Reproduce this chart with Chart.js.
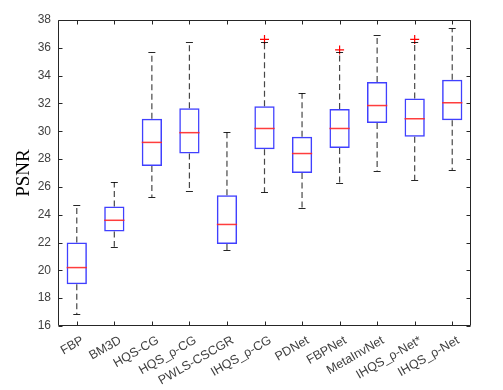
<!DOCTYPE html>
<html>
<head>
<meta charset="utf-8">
<script src="https://cdn.jsdelivr.net/npm/chart.js@4"></script>
<style>
  html, body { margin: 0; padding: 0; background: #fff; }
  canvas { display: block; }
</style>
</head>
<body>
<canvas id="psnrChart" width="503" height="390"></canvas>
<script>
'use strict';

// ── Data ──────────────────────────────────────────────────────────────────────
const METHODS   = ['FBP','BM3D','HQS-CG','HQS_ρ-CG','PWLS-CSCGR','IHQS_ρ-CG','PDNet','FBPNet','MetaInvNet','IHQS_ρ-Net*','IHQS_ρ-Net'];
const Q1        = [19.0, 22.8, 27.5, 28.4, 21.9, 28.7, 27.0, 28.8, 30.6, 29.6, 30.8];
const MEDIAN    = [20.2, 23.6, 29.2, 29.9, 23.3, 30.2, 28.4, 30.2, 31.85, 30.9, 32.05];
const Q3        = [22.0, 24.6, 30.9, 31.65, 25.4, 31.8, 29.6, 31.6, 33.55, 32.35, 33.7];
const WHISK_LO  = [16.85, 21.7, 25.25, 25.7, 21.45, 25.6, 24.5, 26.3, 27.15, 26.5, 27.2];
const WHISK_HI  = [24.7, 26.35, 35.7, 36.4, 29.95, 36.4, 32.75, 35.7, 36.95, 36.4, 37.4];
const OUTLIERS  = [[], [], [], [], [], [36.6], [], [35.85], [], [36.6], []];
const Y_MIN = 16, Y_MAX = 38, Y_STEP = 2;

// ── Styles ────────────────────────────────────────────────────────────────────
const AXIS_COLOR  = '#262626';
const LABEL_COLOR = '#404040';
const BOX_COLOR   = 'rgba(30,30,255,0.85)';
const MED_COLOR   = 'rgba(255,40,40,0.9)';
const WHISK_COLOR = 'rgba(0,0,0,0.72)';
const SANS = '"Liberation Sans", Arial, sans-serif';

// ── Whiskers + medians, drawn from data via scales ────────────────────────────
const boxExtras = {
  id: 'boxExtras',
  afterDatasetsDraw(chart) {
    const { ctx, scales: { x, y } } = chart;
    const meta = chart.getDatasetMeta(0);
    ctx.save();
    METHODS.forEach((_, i) => {
      const bar = meta.data[i];
      const cx  = x.getPixelForValue(i);
      const half = bar.width / 2;
      const capHalf = 3.5;
      // dashed whiskers
      ctx.strokeStyle = WHISK_COLOR;
      ctx.lineWidth = 1.2;
      ctx.setLineDash([6, 3.5]);
      ctx.beginPath();
      ctx.moveTo(cx, y.getPixelForValue(Q3[i]));
      ctx.lineTo(cx, y.getPixelForValue(WHISK_HI[i]));
      ctx.moveTo(cx, y.getPixelForValue(Q1[i]));
      ctx.lineTo(cx, y.getPixelForValue(WHISK_LO[i]));
      ctx.stroke();
      // caps
      ctx.setLineDash([]);
      ctx.strokeStyle = 'rgba(0,0,0,0.85)';
      ctx.lineWidth = 1;
      ctx.beginPath();
      [WHISK_HI[i], WHISK_LO[i]].forEach(v => {
        const py = Math.round(y.getPixelForValue(v)) + 0.5;
        ctx.moveTo(cx - capHalf, py);
        ctx.lineTo(cx + capHalf, py);
      });
      ctx.stroke();
      // median
      ctx.strokeStyle = MED_COLOR;
      ctx.lineWidth = 1.5;
      ctx.beginPath();
      const my = y.getPixelForValue(MEDIAN[i]);
      ctx.moveTo(cx - half, my);
      ctx.lineTo(cx + half, my);
      ctx.stroke();
    });
    ctx.restore();
  }
};

// ── Frame with inward ticks (MATLAB style) ────────────────────────────────────
const frame = {
  id: 'frame',
  afterDraw(chart) {
    const { ctx, chartArea: a, scales: { x, y } } = chart;
    const L = Math.round(a.left) + 0.5, R = Math.round(a.right) - 0.5;
    const T = Math.round(a.top) + 0.5,  B = Math.round(a.bottom) - 0.5;
    const len = 4;
    ctx.save();
    ctx.strokeStyle = AXIS_COLOR;
    ctx.lineWidth = 1;
    ctx.beginPath();
    ctx.rect(L, T, R - L, B - T);
    y.ticks.forEach(t => {
      const py = Math.round(y.getPixelForValue(t.value)) + 0.5;
      ctx.moveTo(L, py); ctx.lineTo(L + len, py);
      ctx.moveTo(R, py); ctx.lineTo(R - len, py);
    });
    METHODS.forEach((_, i) => {
      const px = Math.round(x.getPixelForValue(i)) + 0.5;
      ctx.moveTo(px, B); ctx.lineTo(px, B - len);
      ctx.moveTo(px, T); ctx.lineTo(px, T + len);
    });
    ctx.stroke();
    ctx.restore();
  }
};

// ── Chart ─────────────────────────────────────────────────────────────────────
const outlierPoints = [];
OUTLIERS.forEach((list, i) => list.forEach(v => outlierPoints.push({ x: METHODS[i], y: v })));

new Chart(document.getElementById('psnrChart').getContext('2d'), {
  data: {
    labels: METHODS,
    datasets: [
      {
        type: 'bar',
        label: 'IQR',
        data: METHODS.map((_, i) => [Q1[i], Q3[i]]),
        backgroundColor: 'rgba(0,0,0,0)',
        borderColor: BOX_COLOR,
        borderWidth: 1.5,
        borderSkipped: false,
        barPercentage: 0.54,
        categoryPercentage: 1,
      },
      {
        type: 'line',
        label: 'Outliers',
        data: outlierPoints,
        showLine: false,
        pointStyle: 'cross',
        pointRadius: 4.5,
        borderColor: '#ff0000',
        backgroundColor: '#ff0000',
        borderWidth: 1.2,
      }
    ]
  },
  options: {
    responsive: false,
    animation: false,
    layout: { padding: { top: 20, right: 32, left: 0, bottom: 0 } },
    plugins: {
      legend:  { display: false },
      tooltip: { enabled: false },
    },
    scales: {
      x: {
        type: 'category',
        offset: true,
        grid:   { display: false, drawTicks: false },
        border: { display: false },
        ticks: {
          color: LABEL_COLOR,
          font: { family: SANS, size: 12.5 },
          minRotation: 30,
          maxRotation: 30,
          padding: 7,
          labelOffset: 6,
          autoSkip: false,
        },
        afterFit(scale) { scale.height = 64; },
      },
      y: {
        min: Y_MIN,
        max: Y_MAX,
        grid:   { display: false, drawTicks: false },
        border: { display: false },
        ticks: {
          stepSize: Y_STEP,
          color: LABEL_COLOR,
          font: { family: SANS, size: 12 },
          padding: 7,
        },
        title: {
          display: true,
          text: 'PSNR',
          color: '#000',
          font: { family: '"Liberation Serif", "Times New Roman", serif', size: 19 },
          padding: { top: 13, bottom: 0 },
        },
        afterFit(scale) { scale.width = 58; },
      }
    }
  },
  plugins: [boxExtras, frame]
});
</script>
</body>
</html>
